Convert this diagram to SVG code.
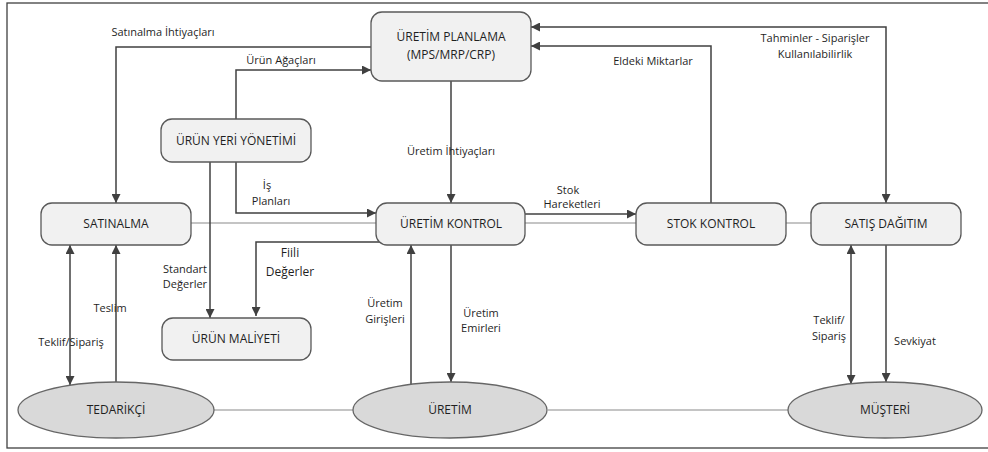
<svg xmlns="http://www.w3.org/2000/svg" width="988" height="452" viewBox="0 0 988 452">
  <style>
    .box { fill: #f1f1f1; stroke: #595959; stroke-width: 1.3; }
    .ell { fill: #d9d9d9; stroke: #666666; stroke-width: 1.3; }
    .node { font-family: "Open Sans", "Noto Sans", sans-serif; font-size: 12px; fill: #1f1f1f; text-anchor: middle; }
    .lbl { font-family: "Open Sans", "Noto Sans", sans-serif; font-size: 11px; fill: #1f1f1f; text-anchor: middle; }
    .flow { fill: none; stroke: #404040; stroke-width: 1.5; }
    .link { fill: none; stroke: #c4c4c4; stroke-width: 2; }
  </style>
  <defs>
    <marker id="arrow" viewBox="0 0 10 10" refX="10" refY="5" markerWidth="10" markerHeight="9" markerUnits="userSpaceOnUse" orient="auto-start-reverse">
      <path d="M0,0 L10,5 L0,10 Z" fill="#404040"/>
    </marker>
  </defs>

  <!-- outer frame -->
  <rect x="7" y="3" width="990" height="445" fill="#ffffff" stroke="#404040" stroke-width="1.3"/>

  <!-- plain links between neighbouring units -->
  <g id="links">
    <path class="link" d="M191,223 H376"/>
    <path class="link" d="M525,223 H636"/>
    <path class="link" d="M786,223 H811"/>
    <path class="link" d="M213,410 H353"/>
    <path class="link" d="M548,410 H788"/>
  </g>

  <!-- information flows -->
  <g id="connectors">
    <path class="flow" d="M371,47 H116 V203" marker-end="url(#arrow)"/>
    <path class="flow" d="M236,119 V70 H371" marker-end="url(#arrow)"/>
    <path class="flow" d="M236,162 V213 H376" marker-end="url(#arrow)"/>
    <path class="flow" d="M210,162 V318" marker-end="url(#arrow)"/>
    <path class="flow" d="M380,242 H256 V316" marker-end="url(#arrow)"/>
    <path class="flow" d="M451,81 V203" marker-end="url(#arrow)"/>
    <path class="flow" d="M525,214 H636" marker-end="url(#arrow)"/>
    <path class="flow" d="M711,203 V46 H531" marker-end="url(#arrow)"/>
    <path class="flow" d="M531,27 H886 V203" marker-start="url(#arrow)" marker-end="url(#arrow)"/>
    <path class="flow" d="M70,245 V385" marker-start="url(#arrow)" marker-end="url(#arrow)"/>
    <path class="flow" d="M116,382 V245" marker-end="url(#arrow)"/>
    <path class="flow" d="M411,384 V245" marker-end="url(#arrow)"/>
    <path class="flow" d="M451,245 V382" marker-end="url(#arrow)"/>
    <path class="flow" d="M851,245 V384" marker-start="url(#arrow)" marker-end="url(#arrow)"/>
    <path class="flow" d="M886,245 V382" marker-end="url(#arrow)"/>

    <text class="lbl" x="163" y="36">Satınalma İhtiyaçları</text>
    <text class="lbl" x="281" y="64">Ürün Ağaçları</text>
    <text class="lbl" x="267" y="189">İş</text>
    <text class="lbl" x="271" y="205">Planları</text>
    <text class="lbl" x="185" y="273">Standart</text>
    <text class="lbl" x="185" y="288">Değerler</text>
    <text class="lbl" x="290" y="257" style="font-size:12px">Fiili</text>
    <text class="lbl" x="290" y="276" style="font-size:12px">Değerler</text>
    <text class="lbl" x="451" y="155">Üretim İhtiyaçları</text>
    <text class="lbl" x="568" y="194">Stok</text>
    <text class="lbl" x="572" y="208">Hareketleri</text>
    <text class="lbl" x="653" y="65">Eldeki Miktarlar</text>
    <text class="lbl" x="815" y="42">Tahminler - Siparişler</text>
    <text class="lbl" x="815" y="58">Kullanılabilirlik</text>
    <text class="lbl" x="71" y="346">Teklif/Sipariş</text>
    <text class="lbl" x="110" y="312">Teslim</text>
    <text class="lbl" x="385" y="307">Üretim</text>
    <text class="lbl" x="385" y="323">Girişleri</text>
    <text class="lbl" x="481" y="317">Üretim</text>
    <text class="lbl" x="481" y="332">Emirleri</text>
    <text class="lbl" x="829" y="324">Teklif/</text>
    <text class="lbl" x="829" y="340">Sipariş</text>
    <text class="lbl" x="915" y="345">Sevkiyat</text>
  </g>

  <g id="uretim-planlama">
    <rect class="box" x="371" y="12" width="160" height="69" rx="11"/>
    <text class="node" x="451" y="41">ÜRETİM PLANLAMA</text>
    <text class="node" x="451" y="59">(MPS/MRP/CRP)</text>
  </g>
  <g id="urun-yeri-yonetimi">
    <rect class="box" x="161" y="119" width="150" height="43" rx="11"/>
    <text class="node" x="236" y="145">ÜRÜN YERİ YÖNETİMİ</text>
  </g>
  <g id="satinalma">
    <rect class="box" x="41" y="203" width="150" height="42" rx="11"/>
    <text class="node" x="116" y="228">SATINALMA</text>
  </g>
  <g id="uretim-kontrol">
    <rect class="box" x="376" y="203" width="149" height="42" rx="11"/>
    <text class="node" x="451" y="228">ÜRETİM KONTROL</text>
  </g>
  <g id="stok-kontrol">
    <rect class="box" x="636" y="203" width="150" height="42" rx="11"/>
    <text class="node" x="711" y="228">STOK KONTROL</text>
  </g>
  <g id="satis-dagitim">
    <rect class="box" x="811" y="203" width="150" height="42" rx="11"/>
    <text class="node" x="886" y="228">SATIŞ DAĞITIM</text>
  </g>
  <g id="urun-maliyeti">
    <rect class="box" x="162" y="318" width="149" height="42" rx="11"/>
    <text class="node" x="236" y="343">ÜRÜN MALİYETİ</text>
  </g>
  <g id="tedarikci">
    <ellipse class="ell" cx="116" cy="410" rx="98" ry="28"/>
    <text class="node" x="116" y="414">TEDARİKÇİ</text>
  </g>
  <g id="uretim">
    <ellipse class="ell" cx="450" cy="410" rx="97" ry="28"/>
    <text class="node" x="450" y="414">ÜRETİM</text>
  </g>
  <g id="musteri">
    <ellipse class="ell" cx="885" cy="410" rx="97" ry="28"/>
    <text class="node" x="885" y="414">MÜŞTERİ</text>
  </g>
</svg>
